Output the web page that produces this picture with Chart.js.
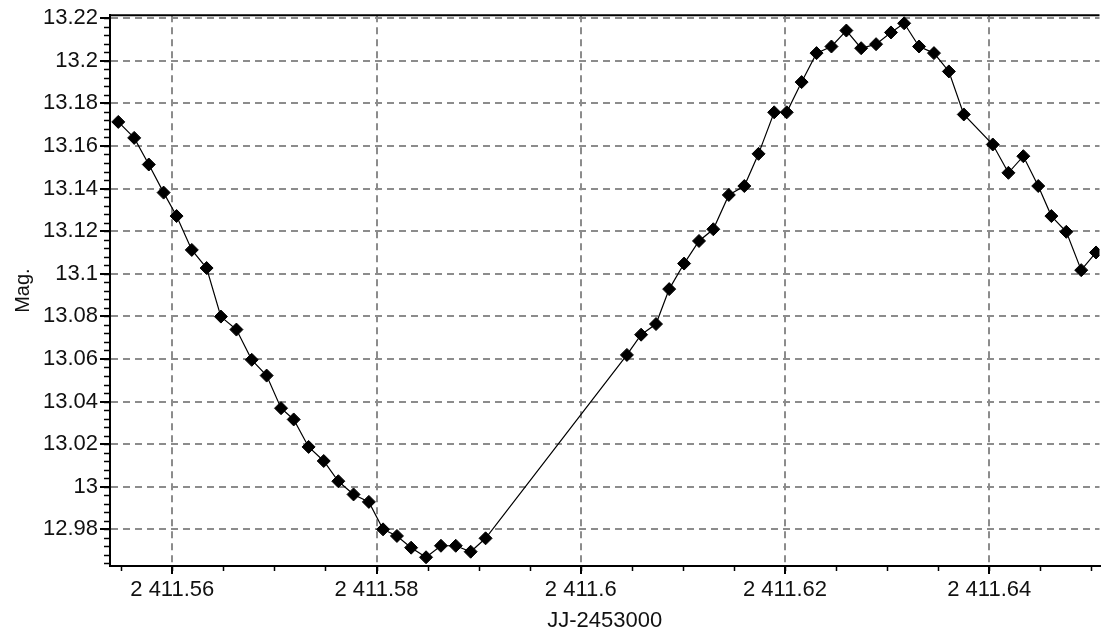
<!DOCTYPE html>
<html>
<head>
<meta charset="utf-8">
<script src="https://cdn.jsdelivr.net/npm/chart.js@4"></script>
<style>
  html, body { margin:0; padding:0; background:#fff; }
  canvas { display:block; }
</style>
</head>
<body>
<canvas id="lc" width="1107" height="636"></canvas>
<script>
// Lyskurve: JD - 2453000 mot magnitude
const JD = [
  2411.55471, 2411.55627, 2411.55770, 2411.55915, 2411.56042, 2411.56191, 2411.56336, 2411.56476,
  2411.56628, 2411.56778, 2411.56924, 2411.57065, 2411.57189, 2411.57335, 2411.57483, 2411.57626,
  2411.57775, 2411.57925, 2411.58064, 2411.58200, 2411.58339, 2411.58485, 2411.58631, 2411.58776,
  2411.58922, 2411.59068,
  2411.60452, 2411.60591, 2411.60737, 2411.60866, 2411.61012, 2411.61158, 2411.61298, 2411.61450,
  2411.61602, 2411.61741, 2411.61894, 2411.62017, 2411.62163, 2411.62309, 2411.62455, 2411.62601,
  2411.62746, 2411.62892, 2411.63038, 2411.63167, 2411.63313, 2411.63459, 2411.63605, 2411.63751,
  2411.64035, 2411.64188, 2411.64334, 2411.64480, 2411.64609, 2411.64755, 2411.64901, 2411.65046
];
const MAG = [
  13.1713, 13.1638, 13.1513, 13.1381, 13.1271, 13.1112, 13.1027, 13.0799,
  13.0738, 13.0596, 13.0522, 13.0369, 13.0316, 13.0187, 13.0121, 13.0026,
  12.9964, 12.9929, 12.9800, 12.9769, 12.9714, 12.9669, 12.9723, 12.9723,
  12.9695, 12.9758,
  13.0619, 13.0714, 13.0764, 13.0928, 13.1048, 13.1154, 13.1209, 13.1370,
  13.1412, 13.1563, 13.1758, 13.1758, 13.1900, 13.2036, 13.2067, 13.2142,
  13.2059, 13.2078, 13.2133, 13.2176, 13.2067, 13.2036, 13.1950, 13.1748,
  13.1607, 13.1474, 13.1552, 13.1412, 13.1271, 13.1197, 13.1017, 13.1100
];

const X_TICKS = [2411.56, 2411.58, 2411.60, 2411.62, 2411.64];
const X_LABELS = ["2 411.56", "2 411.58", "2 411.6", "2 411.62", "2 411.64"];
const Y_TICKS = [12.98, 13.00, 13.02, 13.04, 13.06, 13.08, 13.10, 13.12, 13.14, 13.16, 13.18, 13.20, 13.22];
const Y_LABELS = ["12.98", "13", "13.02", "13.04", "13.06", "13.08", "13.1", "13.12", "13.14", "13.16", "13.18", "13.2", "13.22"];
const X_MINOR = 0.005, Y_MINOR = 0.004;

const FONT = { family:"'Liberation Sans', Arial, sans-serif", size:22, lineHeight:1.2 };
const GRID = { color:"#8c8c8c", lineWidth:2, tickColor:"#000", tickLength:10 };
const BORDER = { display:true, color:"#000", width:2, dash:[7,5] };

// små mellomstreker + topplinje
const frame = {
  id:"frame",
  afterDraw(c) {
    const { ctx, chartArea:a, scales:{ x, y } } = c;
    ctx.save();
    ctx.strokeStyle = "#000";
    ctx.lineWidth = 1.5;
    ctx.beginPath();
    for (let i = 0; ; i++) {
      const v = Math.ceil(x.min / X_MINOR) * X_MINOR + i * X_MINOR;
      if (v > x.max) break;
      const px = Math.round(x.getPixelForValue(v)) + 0.5;
      ctx.moveTo(px, a.bottom); ctx.lineTo(px, a.bottom + 5);
    }
    for (let i = 0; ; i++) {
      const v = Math.ceil(y.min / Y_MINOR) * Y_MINOR + i * Y_MINOR;
      if (v > y.max) break;
      const py = Math.round(y.getPixelForValue(v)) + 0.5;
      ctx.moveTo(a.left - 6, py); ctx.lineTo(a.left, py);
    }
    ctx.stroke();
    ctx.lineWidth = 2;
    ctx.beginPath();
    ctx.moveTo(a.left, a.top); ctx.lineTo(a.right, a.top);
    ctx.stroke();
    ctx.restore();
  },
};

new Chart(document.getElementById("lc"), {
  type:"line",
  data:{ datasets:[{
    data: JD.map((x, i) => ({ x, y:MAG[i] })),
    borderColor:"#000", borderWidth:1.2,
    pointStyle:"rectRot", pointRadius:6.5,
    pointBackgroundColor:"#000", pointBorderColor:"#000", pointBorderWidth:1,
    tension:0,
  }]},
  options:{
    responsive:false, animation:false,
    layout:{ padding:{ top:13, right:0, left:0, bottom:0 } },
    scales:{
      x:{ type:"linear", min:2411.5539, max:2411.6508,
        afterBuildTicks:(s) => { s.ticks = X_TICKS.map(v => ({ value:v })); },
        afterFit:(s) => { s.height = 70; },
        grid:{ ...GRID, tickLength:8 },
        border:BORDER,
        ticks:{ color:"#111", font:FONT, padding:3, maxRotation:0,
          callback:(v, i) => X_LABELS[i] },
        title:{ display:true, text:"JJ-2453000", color:"#111",
          font:{ ...FONT, lineHeight:1 }, padding:{ top:0, bottom:4 } } },
      y:{ type:"linear", min:12.9628, max:13.2214,
        afterBuildTicks:(s) => { s.ticks = Y_TICKS.map(v => ({ value:v })); },
        afterFit:(s) => { s.width = 110; },
        grid:GRID,
        border:BORDER,
        ticks:{ color:"#111", font:FONT, padding:2,
          callback:(v, i) => Y_LABELS[i] },
        title:{ display:true, text:"Mag.", color:"#111",
          font:{ ...FONT, size:20, lineHeight:1 }, padding:{ top:13, bottom:0 } } },
    },
    plugins:{ legend:{ display:false }, tooltip:{ enabled:false } },
  },
  plugins:[frame],
});
</script>
</body>
</html>
